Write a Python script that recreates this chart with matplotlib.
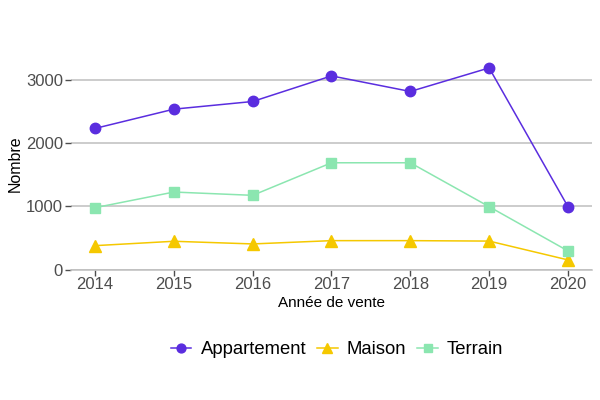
import matplotlib
matplotlib.use("Agg")
import matplotlib.pyplot as plt

plt.rcParams['font.family'] = ['Liberation Sans', 'DejaVu Sans']

# data
annees = [2014, 2015, 2016, 2017, 2018, 2019, 2020]
appartement = [2228, 2532, 2653, 3057, 2811, 3183, 993]
maison = [378, 447, 405, 457, 457, 450, 153]
terrain = [977, 1224, 1172, 1686, 1686, 993, 295]

series = [
    ("Appartement", appartement, "#5a2ddf", "o", 7.5),
    ("Maison", maison, "#f5c800", "^", 8.5),
    ("Terrain", terrain, "#8be6b0", "s", 7),
]

fig = plt.figure(figsize=(6, 4), dpi=100)
ax = fig.add_axes([0.119, 0.326, 0.867, 0.531])

for nom, vals, col, mk, ms in series:
    ax.plot(annees, vals, color=col, marker=mk, markersize=ms, linewidth=1.1,
            label=nom, zorder=3)

ax.set_xlim(2013.7, 2020.3)
ax.set_ylim(0, 3352)
ax.set_xticks(annees)
ax.set_yticks([0, 1000, 2000, 3000])
ax.grid(axis='y', color='#bebebe', linewidth=1.1, zorder=0)
for s in ['top', 'right', 'left']:
    ax.spines[s].set_visible(False)
ax.spines['bottom'].set_color('#bebebe')
ax.spines['bottom'].set_linewidth(1.1)
ax.tick_params(axis='both', colors='#4d4d4d', labelsize=12, length=4, width=1,
               labelcolor='#4d4d4d')
ax.tick_params(axis='x', pad=1)
ax.tick_params(axis='y', pad=2)

ax.set_xlabel("Année de vente", fontsize=11, color='black', labelpad=3)
ax.set_ylabel("Nombre", fontsize=11.5, color='black', labelpad=2)

fig.legend(loc='center', bbox_to_anchor=(0.562, 0.125), ncol=3, frameon=False,
           fontsize=13.3, handlelength=1.1, columnspacing=0.6, handletextpad=0.5,
           markerscale=0.85)

fig.savefig("out.png", dpi=100)
